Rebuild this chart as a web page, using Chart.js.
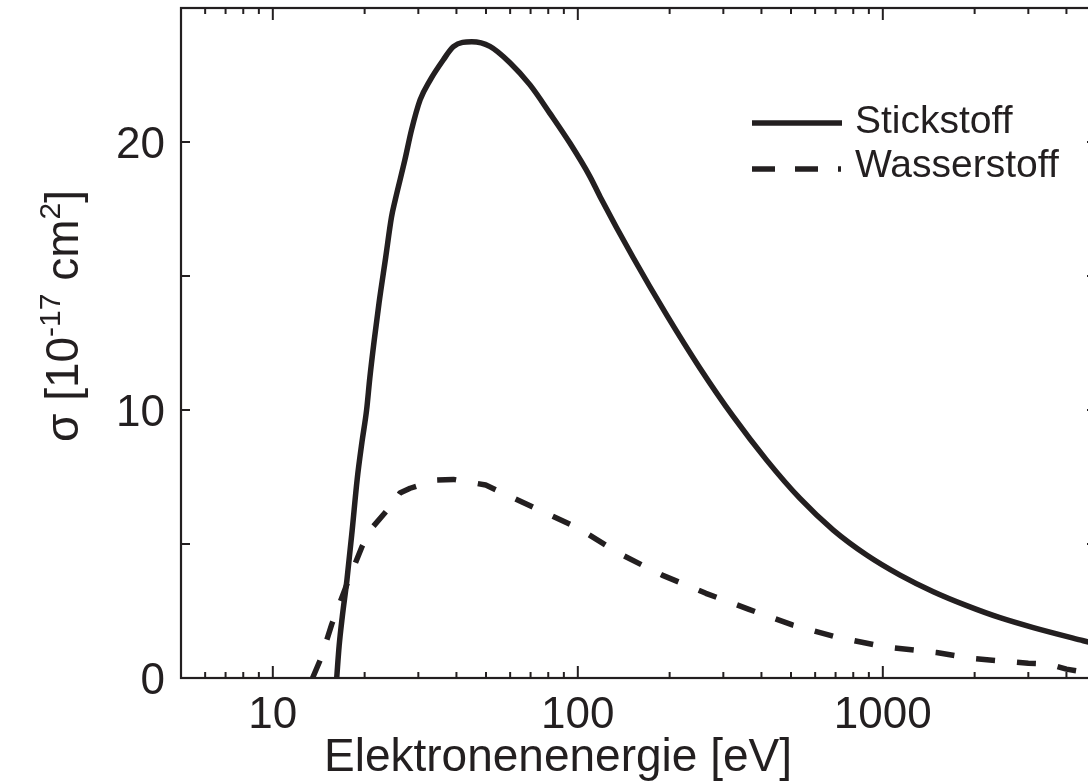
<!DOCTYPE html>
<html><head><meta charset="utf-8">
<script src="https://cdn.jsdelivr.net/npm/chart.js@4.4.0/dist/chart.umd.min.js"></script>
<style>html,body{margin:0;padding:0;background:#fff;overflow:hidden;}#wrap{width:1110px;height:783px;}</style>
</head><body><div id="wrap"><canvas id="c" width="1110" height="783"></canvas></div>
<script>
// ---- data ----
const energyN2 = [16.2, 16.5, 16.9, 17.5, 18.2, 18.9, 19.6, 20.3, 20.8, 21.5, 22.3, 23.45, 24.5, 25.2, 27.1, 28.5, 30.4, 32.8, 36.2, 39.1, 44.9, 51.5, 59.9, 69.7, 81.0, 94.3, 109.6, 118.3, 152, 195.7, 251.5, 323.5, 416, 535, 688, 885, 1139, 1464, 1884, 2422, 3115, 4544, 5000];
const sigmaN2  = [0, 1.2, 2.3, 3.66, 5.5, 7.4, 8.8, 10.0, 11.2, 12.6, 14.0, 15.7, 17.2, 17.84, 19.33, 20.45, 21.57, 22.31, 23.06, 23.56, 23.74, 23.57, 22.96, 22.13, 21.07, 19.95, 18.71, 17.96, 15.68, 13.54, 11.56, 9.75, 8.13, 6.70, 5.52, 4.59, 3.84, 3.22, 2.70, 2.25, 1.88, 1.39, 1.27];
const energyH2 = [13.5, 14.4, 15.6, 17.5, 19.6, 21.1, 24.8, 26.1, 28.2, 34, 39.1, 49.9, 100, 136.5, 189, 263, 364, 505, 709, 1004, 1500, 2000, 3000, 3500, 4000, 5000];
const sigmaH2  = [0, 0.75, 2.0, 3.5, 4.9, 5.59, 6.52, 6.9, 7.08, 7.38, 7.41, 7.2, 5.6, 4.65, 3.84, 3.16, 2.56, 1.98, 1.52, 1.17, 0.95, 0.72, 0.55, 0.52, 0.33, 0.15];
const seriesNames = ['Stickstoff', 'Wasserstoff'];
const xTickValues = [10, 100, 1000];
const xTickLabels = ['10', '100', '1000'];
const yTickValues = [0, 10, 20];
const yTickLabels = ['0', '10', '20'];
const xTitle = 'Elektronenenergie [eV]';
const yTitleParts = [['σ [10', false], ['-17', true], [' cm', false], ['2', true], [']', false]];

const INK = '#231f20';
const FONT = '"Liberation Sans", Arial, Helvetica, sans-serif';

const decorPlugin = {
  id: 'decor',
  afterDraw(chart) {
    const { ctx, chartArea: a, scales: { x, y } } = chart;
    const line = (x1, y1, x2, y2) => { ctx.beginPath(); ctx.moveTo(x1, y1); ctx.lineTo(x2, y2); ctx.stroke(); };
    ctx.save();
    ctx.strokeStyle = INK; ctx.fillStyle = INK;
    ctx.lineWidth = 2.2; ctx.setLineDash([]);
    ctx.strokeRect(a.left, a.top, a.right - a.left, a.bottom - a.top);
    ctx.lineWidth = 2;
    for (let d = 1; d <= 1000; d *= 10) {
      for (let m = 1; m <= 9; m++) {
        const v = m * d;
        if (v <= x.min || v >= x.max) continue;
        const px = x.getPixelForValue(v);
        const len = m === 1 ? 12 : 6;
        line(px, a.bottom, px, a.bottom - len);
        line(px, a.top, px, a.top + len);
      }
    }
    for (let v = 5; v < y.max; v += 5) {
      const py = y.getPixelForValue(v);
      line(a.left, py, a.left + 9, py);
      line(a.right, py, a.right - 9, py);
    }
    // tick labels
    ctx.font = '44px ' + FONT; ctx.textBaseline = 'alphabetic';
    ctx.textAlign = 'center';
    xTickValues.forEach((v, i) => ctx.fillText(xTickLabels[i], x.getPixelForValue(v), a.bottom + 50));
    ctx.textAlign = 'right';
    yTickValues.forEach((v, i) => ctx.fillText(yTickLabels[i], a.left - 16, y.getPixelForValue(v) + 16));
    // x title
    ctx.font = '46px ' + FONT;
    ctx.textAlign = 'center';
    ctx.fillText(xTitle, 558, 771);
    // y title (rotated)
    ctx.save();
    ctx.translate(78, 316);
    ctx.rotate(-Math.PI / 2);
    ctx.textAlign = 'left';
    const mainF = '46px ' + FONT, supF = '30px ' + FONT;
    let total = 0;
    yTitleParts.forEach(([t, sup]) => { ctx.font = sup ? supF : mainF; total += ctx.measureText(t).width; });
    let cx = -total / 2;
    yTitleParts.forEach(([t, sup]) => {
      ctx.font = sup ? supF : mainF;
      ctx.fillText(t, cx, sup ? -18 : 0);
      cx += ctx.measureText(t).width;
    });
    ctx.restore();
    // legend
    const ds = chart.data.datasets;
    const ly = [123, 169];
    ds.forEach((d, i) => {
      ctx.lineWidth = d.borderWidth;
      ctx.lineCap = 'butt';
      ctx.setLineDash(d.borderDash ? [23, 20] : []);
      line(752, ly[i], i === 0 ? 842 : 841, ly[i]);
      ctx.setLineDash([]);
      ctx.font = '39px ' + FONT; ctx.textAlign = 'left';
      ctx.fillText(seriesNames[i], 855, ly[i] + 10 + (i === 0 ? 0 : -2));
    });
    ctx.restore();
  }
};

new Chart(document.getElementById('c'), {
  type: 'line',
  data: {
    datasets: [
      { label: seriesNames[0], data: energyN2.map((e, i) => ({ x: e, y: sigmaN2[i] })),
        borderColor: INK, borderWidth: 5.5, pointRadius: 0, fill: false, cubicInterpolationMode: 'monotone' },
      { label: seriesNames[1], data: energyH2.map((e, i) => ({ x: e, y: sigmaH2[i] })),
        borderColor: INK, borderWidth: 5.5, pointRadius: 0, fill: false, tension: 0,
        borderDash: [19, 22], borderCapStyle: 'butt', borderJoinStyle: 'round' }
    ]
  },
  options: {
    responsive: false, animation: false, devicePixelRatio: 1,
    layout: { padding: { left: 181, right: 14, top: 8, bottom: 105 } },
    plugins: { legend: { display: false }, tooltip: { enabled: false } },
    scales: {
      x: { type: 'logarithmic', min: 5, max: 5000, display: false },
      y: { type: 'linear', min: 0, max: 25, display: false }
    }
  },
  plugins: [decorPlugin]
});
</script>
</body></html>
